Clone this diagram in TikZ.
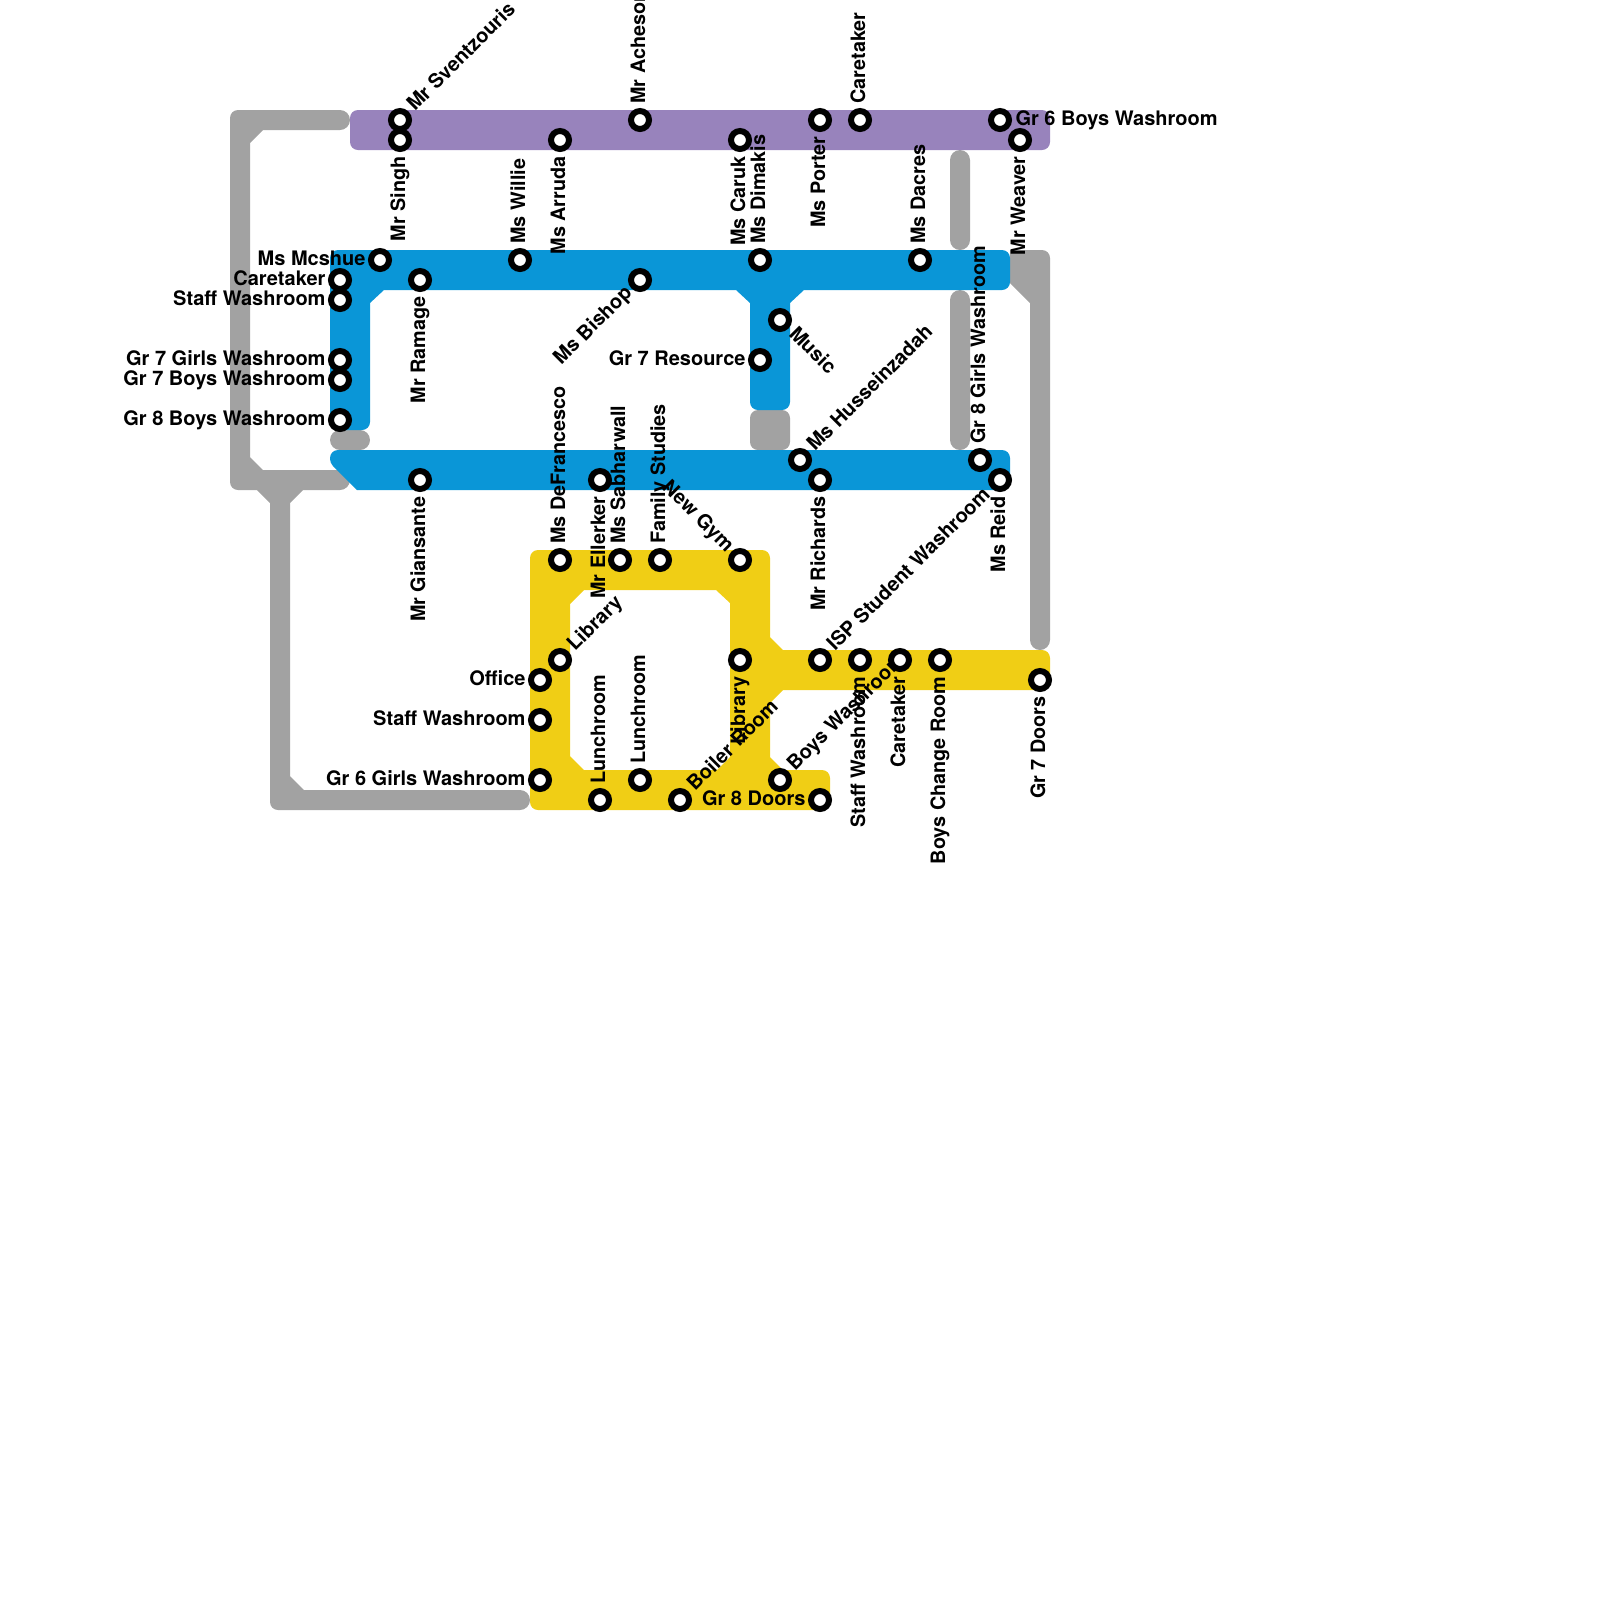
\documentclass[tikz,border=0pt]{standalone}
\usepackage{fontspec}
\setmainfont{TeX Gyre Heros}
\usepackage{xcolor}
\definecolor{mpurple}{HTML}{9883BC}
\definecolor{mblue}{HTML}{0A96D7}
\definecolor{myellow}{HTML}{F0CE15}
\definecolor{mgrey}{HTML}{A2A2A2}
\pgfdeclarelayer{back}
\pgfdeclarelayer{lab}
\pgfsetlayers{back,lab,main}
\tikzset{
  rcs/.style={rounded corners=2.4bp},
  rce/.style={rounded corners=3bp},
  rct/.style={rounded corners=1.2bp},
  stn/.style={circle, draw=black, fill=white, line width=1.8bp, minimum size=5.4bp, inner sep=0pt, outer sep=0pt},
  lbl/.style={inner sep=0pt, outer sep=0pt, font=\fontsize{6bp}{7bp}\selectfont\bfseries, text=black},
  lbv/.style={lbl, font=\fontsize{5.94bp}{7bp}\selectfont\bfseries, rotate=90},
  lbw/.style={lbl, anchor=base east, xshift=-4.35bp, yshift=-1.5bp},
  lbe/.style={lbl, anchor=base west, xshift=4.65bp, yshift=-1.5bp},
  lbu/.style={lbv, anchor=base west, xshift=4.95bp, yshift=-1.5bp},
  lbd/.style={lbv, anchor=base east, xshift=-4.95bp, yshift=-1.5bp},
  lbne/.style={lbl, rotate=45, anchor=base west, xshift=4.95bp, yshift=-1.5bp},
  lbsw/.style={lbl, rotate=45, anchor=base east, xshift=-4.5bp, yshift=-1.5bp},
  lbnw/.style={lbl, rotate=-45, anchor=base east, xshift=-4.5bp, yshift=-1.5bp},
  lbse/.style={lbl, rotate=-45, anchor=base west, xshift=4.95bp, yshift=-1.5bp},
}
\begin{document}
\begin{tikzpicture}[x=0.3bp, y=-0.3bp]
\useasboundingbox (0,0) rectangle (1600,1600);
\begin{pgfonlayer}{back}
% grey links
\fill[mgrey] (263,130) [rce] -- (350,130) -- (350,110) [rcs] -- (230,110) -- (230,490) [sharp corners] -- (257,490) -- (270,503) [rcs] -- (270,810) [rce] -- (530,810) -- (530,790) [sharp corners] -- (304,790) -- (290,776) -- (290,503) -- (303,490) [rce] -- (350,490) -- (350,470) [sharp corners] -- (263,470) -- (250,457) -- (250,143) -- cycle;
\fill[mgrey, rce] (330,430) rectangle (370,450);
\fill[mgrey, rcs] (750,410) rectangle (790,450);
\fill[mgrey, rce] (950,150) rectangle (970,250);
\fill[mgrey, rce] (950,290) rectangle (970,450);
\fill[mgrey] (1010,283) [sharp corners] -- (1010,250) [rcs] -- (1050,250) [rce] -- (1050,650) -- (1030,650) [sharp corners] -- (1030,303) -- cycle;
% purple
\fill[mpurple, rcs] (350,110) rectangle (1050,150);
% blue
\fill[mblue] (384,290) [sharp corners] -- (370,303) [rcs] -- (370,430) -- (330,430) -- (330,250) -- (1010,250) -- (1010,290) [sharp corners] -- (804,290) -- (790,303) [rcs] -- (790,410) -- (750,410) [sharp corners] -- (750,303) -- (736,290) -- cycle;
\fill[mblue] (357,490) [rct] -- (330,463) [rcs] -- (330,450) -- (1010,450) -- (1010,490) [sharp corners] -- cycle;
% yellow
\fill[myellow, even odd rule] (783,650) [rcs] -- (1050,650) -- (1050,690) [sharp corners] -- (783,690) -- (770,703) -- (770,757) -- (783,770) [rcs] -- (830,770) -- (830,810) -- (530,810) -- (530,550) -- (770,550) [sharp corners] -- (770,637) -- cycle
  (584,590) -- (716,590) -- (730,603) -- (730,757) -- (717,770) -- (584,770) -- (570,756) -- (570,604) -- cycle;
\end{pgfonlayer}
% stations
\node[stn] (sventzouris) at (400,120) {};
\node[stn] (singh) at (400,140) {};
\node[stn] (arruda) at (560,140) {};
\node[stn] (acheson) at (640,120) {};
\node[stn] (caruk) at (740,140) {};
\node[stn] (porter) at (820,120) {};
\node[stn] (caretakerp) at (860,120) {};
\node[stn] (gsixboys) at (1000,120) {};
\node[stn] (weaver) at (1020,140) {};
\node[stn] (mcshue) at (380,260) {};
\node[stn] (caretakerb) at (340,280) {};
\node[stn] (staffb) at (340,300) {};
\node[stn] (ramage) at (420,280) {};
\node[stn] (willie) at (520,260) {};
\node[stn] (bishop) at (640,280) {};
\node[stn] (dimakis) at (760,260) {};
\node[stn] (dacres) at (920,260) {};
\node[stn] (music) at (780,320) {};
\node[stn] (gsevenres) at (760,360) {};
\node[stn] (gsevengirls) at (340,360) {};
\node[stn] (gsevenboys) at (340,380) {};
\node[stn] (geightboys) at (340,420) {};
\node[stn] (giansante) at (420,480) {};
\node[stn] (ellerker) at (600,480) {};
\node[stn] (husseinzadah) at (800,460) {};
\node[stn] (richards) at (820,480) {};
\node[stn] (geightgirls) at (980,460) {};
\node[stn] (reid) at (1000,480) {};
\node[stn] (defrancesco) at (560,560) {};
\node[stn] (sabharwall) at (620,560) {};
\node[stn] (family) at (660,560) {};
\node[stn] (newgym) at (740,560) {};
\node[stn] (libraryw) at (560,660) {};
\node[stn] (office) at (540,680) {};
\node[stn] (staffy) at (540,720) {};
\node[stn] (gsixgirls) at (540,780) {};
\node[stn] (lunchw) at (600,800) {};
\node[stn] (lunche) at (640,780) {};
\node[stn] (boiler) at (680,800) {};
\node[stn] (librarye) at (740,660) {};
\node[stn] (boyswash) at (780,780) {};
\node[stn] (geightdoors) at (820,800) {};
\node[stn] (isp) at (820,660) {};
\node[stn] (staffe) at (860,660) {};
\node[stn] (caretakery) at (900,660) {};
\node[stn] (boyschange) at (940,660) {};
\node[stn] (gsevendoors) at (1040,680) {};
% labels
\begin{pgfonlayer}{lab}
\node[lbne] (sventzouris_t) at (sventzouris) {Mr Sventzouris};
\node[lbd] (singh_t) at (singh) {Mr Singh};
\node[lbd] (arruda_t) at (arruda) {Ms Arruda};
\node[lbu] (acheson_t) at (acheson) {Mr Acheson};
\node[lbd] (caruk_t) at (caruk) {Ms Caruk};
\node[lbd] (porter_t) at (porter) {Ms Porter};
\node[lbu] (caretakerp_t) at (caretakerp) {Caretaker};
\node[lbe] (gsixboys_t) at (gsixboys) {Gr 6 Boys Washroom};
\node[lbd] (weaver_t) at (weaver) {Mr Weaver};
\node[lbw] (mcshue_t) at (mcshue) {Ms Mcshue};
\node[lbw] (caretakerb_t) at (caretakerb) {Caretaker};
\node[lbw] (staffb_t) at (staffb) {Staff Washroom};
\node[lbd] (ramage_t) at (ramage) {Mr Ramage};
\node[lbu] (willie_t) at (willie) {Ms Willie};
\node[lbsw] (bishop_t) at (bishop) {Ms Bishop};
\node[lbu] (dimakis_t) at (dimakis) {Ms Dimakis};
\node[lbu] (dacres_t) at (dacres) {Ms Dacres};
\node[lbse] (music_t) at (music) {Music};
\node[lbw] (gsevenres_t) at (gsevenres) {Gr 7 Resource};
\node[lbw] (gsevengirls_t) at (gsevengirls) {Gr 7 Girls Washroom};
\node[lbw] (gsevenboys_t) at (gsevenboys) {Gr 7 Boys Washroom};
\node[lbw] (geightboys_t) at (geightboys) {Gr 8 Boys Washroom};
\node[lbd] (giansante_t) at (giansante) {Mr Giansante};
\node[lbd] (ellerker_t) at (ellerker) {Mr Ellerker};
\node[lbne] (husseinzadah_t) at (husseinzadah) {Ms Husseinzadah};
\node[lbd] (richards_t) at (richards) {Mr Richards};
\node[lbu] (geightgirls_t) at (geightgirls) {Gr 8 Girls Washroom};
\node[lbd] (reid_t) at (reid) {Ms Reid};
\node[lbu] (defrancesco_t) at (defrancesco) {Ms DeFrancesco};
\node[lbu] (sabharwall_t) at (sabharwall) {Ms Sabharwall};
\node[lbu] (family_t) at (family) {Family Studies};
\node[lbnw] (newgym_t) at (newgym) {New Gym};
\node[lbne] (libraryw_t) at (libraryw) {Library};
\node[lbw] (office_t) at (office) {Office};
\node[lbw] (staffy_t) at (staffy) {Staff Washroom};
\node[lbw] (gsixgirls_t) at (gsixgirls) {Gr 6 Girls Washroom};
\node[lbu] (lunchw_t) at (lunchw) {Lunchroom};
\node[lbu] (lunche_t) at (lunche) {Lunchroom};
\node[lbne] (boiler_t) at (boiler) {Boiler Room};
\node[lbd] (librarye_t) at (librarye) {Library};
\node[lbne] (boyswash_t) at (boyswash) {Boys Washroom};
\node[lbw] (geightdoors_t) at (geightdoors) {Gr 8 Doors};
\node[lbne] (isp_t) at (isp) {ISP Student Washroom};
\node[lbd] (staffe_t) at (staffe) {Staff Washroom};
\node[lbd] (caretakery_t) at (caretakery) {Caretaker};
\node[lbd] (boyschange_t) at (boyschange) {Boys Change Room};
\node[lbd] (gsevendoors_t) at (gsevendoors) {Gr 7 Doors};
\end{pgfonlayer}
\end{tikzpicture}
\end{document}
